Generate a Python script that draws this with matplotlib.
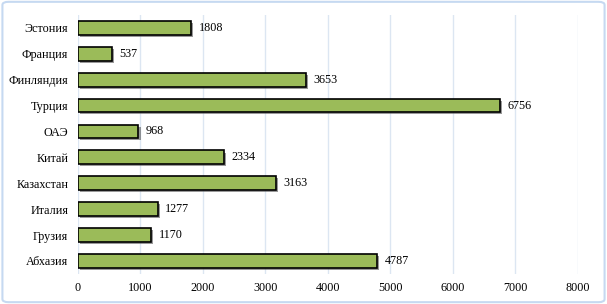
import matplotlib
matplotlib.use("Agg")
import matplotlib.pyplot as plt
from matplotlib.patches import FancyBboxPatch
import matplotlib.patheffects as pe

categories = ["Эстония", "Франция", "Финляндия", "Турция", "ОАЭ", "Китай",
              "Казахстан", "Италия", "Грузия", "Абхазия"]
values = [1808, 537, 3653, 6756, 968, 2334, 3163, 1277, 1170, 4787]
xticks = [0, 1000, 2000, 3000, 4000, 5000, 6000, 7000, 8000]

plt.rcParams['font.family'] = ['Liberation Serif', 'DejaVu Serif']

fig = plt.figure(figsize=(6.07, 3.04), dpi=100)
ax = fig.add_axes([0.1285, 0.099, 0.8235, 0.852])

ypos = list(range(len(categories)))[::-1]
bars = ax.barh(ypos, values, height=0.53, color="#9bbb59", edgecolor="black",
               linewidth=1.2, zorder=3)
for b in bars:
    b.set_path_effects([pe.SimplePatchShadow(offset=(1.5, -1.5), shadow_rgbFace="#555555", alpha=0.6),
                        pe.Normal()])
for y, v in zip(ypos, values):
    ax.text(v + 120, y, str(v), va="center", ha="left", fontsize=8.7, color="black")

ax.set_xlim(0, 8000)
ax.set_ylim(-0.5, len(categories) - 0.5)
ax.set_yticks(ypos)
ax.set_yticklabels(categories, fontsize=8.7)
ax.set_xticks(xticks)
ax.set_xticklabels([str(t) for t in xticks], fontsize=8.7)
ax.tick_params(axis='y', length=0, pad=7)
ax.tick_params(axis='x', length=0, pad=6)
ax.grid(axis='x', color="#dce6f2", linewidth=1.0, zorder=0)
for s in ax.spines.values():
    s.set_visible(False)

fig.patches.append(FancyBboxPatch((0.004, 0.006), 0.992, 0.988,
                                  boxstyle="round,pad=0,rounding_size=0.01",
                                  transform=fig.transFigure, facecolor="none",
                                  edgecolor="#c6d9f1", linewidth=1.5))

fig.savefig("out.png", dpi=100)
